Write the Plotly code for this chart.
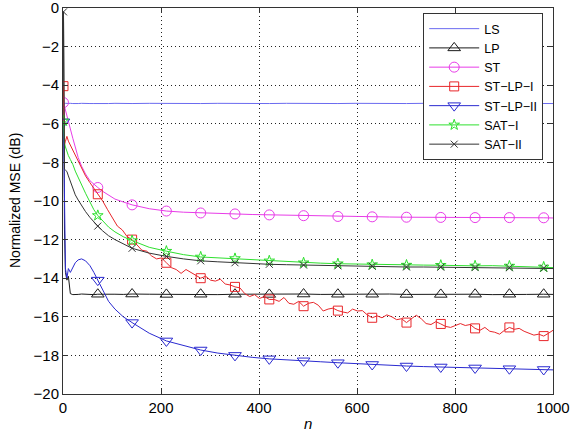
import plotly.graph_objects as go

# sample positions for the smooth curves
N_S = [1, 2, 3, 5, 8, 11, 15, 20, 25, 31, 38, 46, 55, 63, 71, 81, 93, 106, 123,
       141, 176, 211, 246, 281, 316, 351, 386, 421, 456, 491, 526, 561, 596,
       631, 666, 701, 736, 771, 806, 841, 876, 911, 946, 981, 1000]

LS = [-4.92, -4.95, -4.96, -4.94, -4.95, -4.96, -4.94, -4.95, -4.96, -4.95,
      -4.94, -4.96, -4.95, -4.95, -4.94, -4.96, -4.95, -4.94, -4.96, -4.95,
      -4.94, -4.95, -4.96, -4.95, -4.94, -4.95, -4.96, -4.95, -4.94, -4.95,
      -4.96, -4.95, -4.94, -4.95, -4.96, -4.95, -4.94, -4.95, -4.96, -4.95,
      -4.94, -4.95, -4.96, -4.95, -4.95]

LP = [-0.3, -7.0, -11.5, -13.7, -14.1, -13.9, -14.8, -14.85, -14.83, -14.84,
      -14.82, -14.84, -14.83, -14.85, -14.83, -14.82, -14.84, -14.83, -14.84, -14.82,
      -14.83, -14.84, -14.82, -14.83, -14.85, -14.83, -14.82, -14.84, -14.83, -14.82,
      -14.84, -14.83, -14.85, -14.83, -14.82, -14.84, -14.83, -14.84, -14.82, -14.83,
      -14.85, -14.83, -14.84, -14.83, -14.84]

ST = [-4.9, -5.0, -5.15, -5.4, -5.7, -5.95, -6.25, -6.75, -7.2, -7.75,
      -8.2, -8.6, -8.95, -9.15, -9.3, -9.5, -9.7, -9.9, -10.05, -10.2,
      -10.4, -10.52, -10.58, -10.62, -10.65, -10.67, -10.7, -10.72, -10.74, -10.76,
      -10.78, -10.8, -10.8, -10.82, -10.83, -10.84, -10.84, -10.85, -10.85, -10.86,
      -10.85, -10.86, -10.87, -10.87, -10.88]

ST_LP_II = [-5.9, -8.5, -11.0, -13.5, -14.0, -13.5, -13.7, -13.45, -13.2, -13.05,
            -13.0, -13.1, -13.35, -13.7, -14.1, -14.65, -15.2, -15.6, -16.0, -16.3,
            -16.85, -17.25, -17.5, -17.72, -17.88, -18.0, -18.1, -18.18, -18.24, -18.28,
            -18.33, -18.38, -18.43, -18.47, -18.51, -18.55, -18.58, -18.6, -18.63, -18.65,
            -18.67, -18.69, -18.71, -18.73, -18.75]

SAT_I = [-5.85, -6.6, -7.0, -7.2, -7.45, -7.65, -7.85, -8.1, -8.45, -8.8,
         -9.2, -9.6, -10.05, -10.45, -10.75, -11.05, -11.35, -11.6, -11.85, -12.05,
         -12.4, -12.6, -12.78, -12.9, -12.95, -12.98, -13.04, -13.1, -13.15, -13.2,
         -13.22, -13.25, -13.27, -13.3, -13.3, -13.32, -13.32, -13.33, -13.35, -13.36,
         -13.35, -13.37, -13.4, -13.42, -13.45]

SAT_II = [-0.2, -5.0, -8.35, -8.4, -8.47, -8.7, -9.0, -9.35, -9.68, -9.95,
          -10.25, -10.55, -10.85, -11.1, -11.3, -11.55, -11.8, -12.0, -12.22, -12.45,
          -12.7, -12.87, -13.0, -13.1, -13.15, -13.2, -13.25, -13.28, -13.3, -13.32,
          -13.34, -13.36, -13.37, -13.38, -13.4, -13.42, -13.42, -13.43, -13.44, -13.45,
          -13.45, -13.46, -13.47, -13.48, -13.5]

# the red curve is noisy, so it is read on a finer grid
N_R = [1, 2, 3, 5, 8, 11, 15, 20, 25, 31, 38, 46, 55, 63, 71] + list(range(81, 1000, 10)) + [1000]

ST_LP_I = [-4.05, -6.0, -7.1, -6.9, -6.65, -6.9, -7.1, -7.35, -7.6, -7.9,
           -8.3, -8.7, -9.05, -9.35, -9.65,
           -10.0, -10.45, -10.85, -11.3, -11.5, -11.85, -12.0, -12.3, -12.55, -12.6,
           -12.85, -13.0, -12.95, -13.2, -13.45, -13.55, -13.75, -13.55, -13.7, -13.85,
           -14.0, -13.9, -14.1, -14.15, -14.05, -14.3, -14.35, -14.45, -14.5, -14.8,
           -14.95, -14.85, -15.05, -14.95, -15.1, -15.1, -15.2, -15.0, -15.3, -15.35,
           -15.2, -15.45, -15.3, -15.25, -15.4, -15.7, -15.6, -15.55, -15.68, -15.75,
           -15.8, -15.6, -15.7, -15.68, -15.9, -16.05, -15.95, -16.05, -15.9, -16.0,
           -16.15, -16.1, -16.3, -16.1, -15.92, -16.1, -16.35, -16.4, -16.25, -16.37,
           -16.5, -16.55, -16.45, -16.35, -16.45, -16.4, -16.6, -16.7, -16.55, -16.75,
           -16.8, -16.9, -16.7, -16.55, -16.65, -16.6, -16.75, -16.85, -16.95, -16.9,
           -17.0, -16.85,
           -16.7]

MARK_N = [1, 71, 141, 211, 281, 351, 421, 491, 561, 631, 701, 771, 841, 911, 981]

FONT = "Liberation Sans, Arial, Helvetica, sans-serif"

assert len(N_R) == len(ST_LP_I)
assert len(N_S) == len(LS) == len(LP) == len(ST) == len(ST_LP_II) == len(SAT_I) == len(SAT_II)


def add_series(fig, name, xs, ys, color, symbol=None, size=9, marks=MARK_N):
    fig.add_trace(go.Scatter(x=xs, y=ys, mode='lines', line=dict(color=color, width=1),
                             showlegend=False, hoverinfo='skip'))
    marker = None
    if symbol:
        marker = dict(symbol=symbol, size=size, color=color,
                      line=dict(color=color, width=1))
        mx = [x for x in xs if x in marks]
        my = [y for x, y in zip(xs, ys) if x in marks]
        fig.add_trace(go.Scatter(x=mx, y=my, mode='markers', marker=marker,
                                 showlegend=False, hoverinfo='skip'))
    # legend only entry
    fig.add_trace(go.Scatter(x=[None], y=[None], name=name,
                             mode='lines+markers' if symbol else 'lines',
                             line=dict(color=color, width=1), marker=marker))


fig = go.Figure()
add_series(fig, 'LS', N_S, LS, '#6b6bf0')
add_series(fig, 'LP', N_S, LP, '#1a1a1a', 'triangle-up-open', 11, MARK_N[1:])
add_series(fig, 'ST', N_S, ST, '#e83ce8', 'circle-open', 10)
add_series(fig, 'ST\u2212LP\u2212I', N_R, ST_LP_I, '#e8262a', 'square-open', 9)
add_series(fig, 'ST\u2212LP\u2212II', N_S, ST_LP_II, '#2a2ad0', 'triangle-down-open', 11)
add_series(fig, 'SAT\u2212I', N_S, SAT_I, '#2ee02e', 'star-open', 8)
add_series(fig, 'SAT\u2212II', N_S, SAT_II, '#333333', 'x-thin', 7)

axis_common = dict(showline=True, linecolor='#333333', linewidth=1, mirror='ticks',
                   ticks='inside', ticklen=5, tickcolor='#333333',
                   showgrid=True, gridcolor='#222222', gridwidth=1, griddash='1px,3px',
                   zeroline=False, tickfont=dict(size=15, color='black'),
                   ticklabeloverflow='allow', automargin=False)

fig.update_xaxes(range=[0, 1000], tickvals=[0, 200, 400, 600, 800, 1000], **axis_common)
fig.update_yaxes(range=[-20, 0], dtick=2, **axis_common)

# axis labels placed by hand so they sit where the reference has them
fig.add_annotation(text='<i>n</i>', xref='paper', yref='paper', x=0.5, y=0,
                   yanchor='middle', yshift=-29, showarrow=False, font=dict(size=15))
fig.add_annotation(text='Normalized MSE (dB)', xref='paper', yref='paper', x=0, y=0.5,
                   xanchor='center', xshift=-48, textangle=-90, showarrow=False,
                   font=dict(size=14))

fig.update_layout(
    width=580, height=433,
    margin=dict(l=63, r=27, t=8, b=39),
    paper_bgcolor='white', plot_bgcolor='white',
    font=dict(family=FONT, color='black'),
    legend=dict(x=0.98, y=0.987, xanchor='right', yanchor='top',
                bgcolor='white', bordercolor='#333333', borderwidth=1,
                font=dict(size=12.5), tracegroupgap=0, itemwidth=50),
    showlegend=True,
)

# drop the browser's default page margin so the figure sits at the top left
fig.write_html("out.html", config={'displayModeBar': False},
               post_script="document.body.style.margin='0';")
